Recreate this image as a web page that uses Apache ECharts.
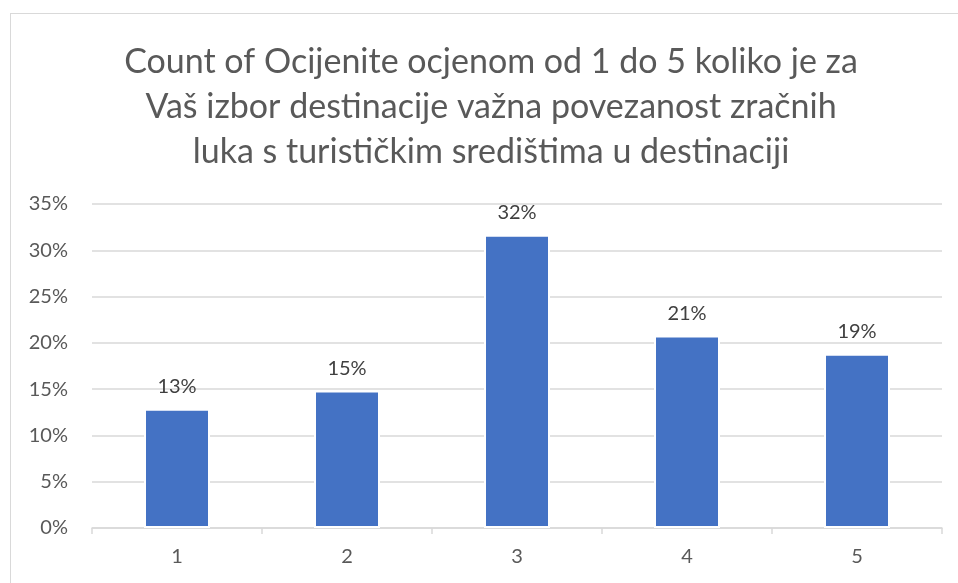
<!DOCTYPE html>
<html>
<head>
<meta charset="utf-8">
<script src="https://cdn.jsdelivr.net/npm/echarts@6/dist/echarts.min.js"></script>
<style>
html,body{margin:0;padding:0;background:#fff;}
#frame{position:absolute;left:10px;top:13px;width:960px;height:600px;border:1.5px solid #d9d9d9;box-sizing:border-box;}
#chart{position:absolute;left:0;top:0;width:958px;height:583px;}
</style>
</head>
<body>
<div id="frame"></div>
<div id="chart"></div>
<script>
const titleLines = [
  "Count of Ocijenite ocjenom od 1 do 5 koliko je za",
  "Vaš izbor destinacije važna povezanost zračnih",
  "luka s turističkim središtima u destinaciji"
];
const categories = ["1", "2", "3", "4", "5"];
const percentValues = [12.87, 14.85, 31.68, 20.79, 18.81];
const yTicks = [0, 5, 10, 15, 20, 25, 30, 35];

const chart = echarts.init(document.getElementById('chart'), null, {renderer: 'canvas'});
const font = "Lato, 'Open Sans', 'Noto Sans', sans-serif";
chart.setOption({
  animation: false,
  backgroundColor: 'transparent',
  title: {
    text: titleLines.join('\n'),
    left: 486,
    textAlign: 'center',
    top: 35,
    textStyle: {
      fontFamily: font,
      fontSize: 34,
      fontWeight: 'normal',
      color: '#595959',
      lineHeight: 45
    }
  },
  grid: {left: 92, right: 16, top: 204, bottom: 55, containLabel: false},
  xAxis: {
    type: 'category',
    data: categories,
    axisLine: {show: true, lineStyle: {color: '#d9d9d9', width: 1.5}},
    axisTick: {show: true, length: 6, lineStyle: {color: '#d9d9d9', width: 1.5}},
    axisLabel: {color: '#595959', fontSize: 20, fontFamily: font, margin: 19}
  },
  yAxis: {
    type: 'value',
    min: yTicks[0],
    max: yTicks[yTicks.length - 1],
    interval: 5,
    axisLine: {show: false},
    axisTick: {show: false},
    splitLine: {lineStyle: {color: '#d9d9d9', width: 1.5}},
    axisLabel: {color: '#595959', fontSize: 20, fontFamily: font, margin: 24, formatter: v => v + '%'}
  },
  series: [{
    type: 'bar',
    data: percentValues,
    barWidth: 66,
    itemStyle: {color: '#4472c4', borderColor: '#ffffff', borderWidth: 2},
    label: {
      show: true,
      position: 'top',
      distance: 12,
      color: '#404040',
      fontSize: 20,
      fontFamily: font,
      formatter: p => Math.round(p.value) + '%'
    }
  }]
});
</script>
</body>
</html>
